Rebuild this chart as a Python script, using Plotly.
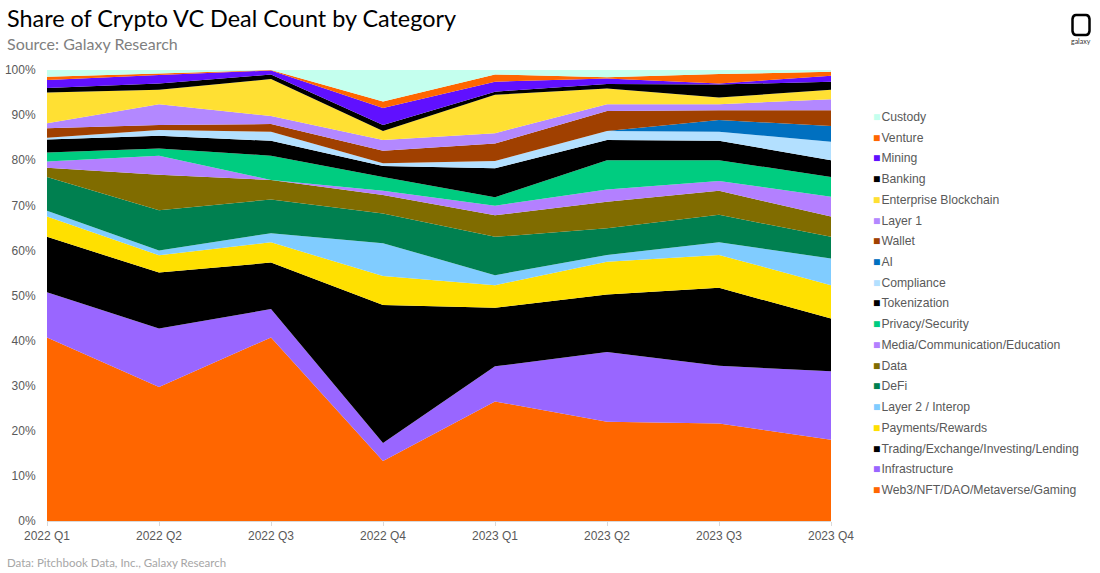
import plotly.graph_objects as go

quarters = ['2022 Q1', '2022 Q2', '2022 Q3', '2022 Q4', '2023 Q1', '2023 Q2', '2023 Q3', '2023 Q4']

# Share of deals per category, bottom of the stack first
web3 = [40.7, 29.7, 40.7, 13.3, 26.5, 22.0, 21.6, 18.0]
infrastructure = [10.0, 13.0, 6.3, 4.0, 7.8, 15.5, 12.8, 15.2]
trading = [12.3, 12.4, 10.3, 30.6, 13.0, 12.7, 17.3, 11.7]
payments = [4.5, 3.8, 4.5, 6.4, 5.0, 7.3, 7.3, 7.4]
layer2 = [1.3, 1.1, 2.0, 7.3, 2.2, 1.5, 2.8, 5.9]
defi = [7.5, 8.9, 7.5, 6.6, 8.5, 5.9, 6.1, 4.8]
data = [2.0, 7.9, 4.3, 4.1, 4.8, 5.9, 5.3, 4.5]
media = [1.4, 4.2, 0.0, 0.9, 2.1, 2.7, 2.2, 4.4]
privacy = [2.0, 1.6, 5.4, 3.1, 1.9, 6.5, 4.6, 4.4]
tokenization = [2.9, 2.8, 3.3, 2.4, 6.4, 4.5, 4.3, 3.7]
compliance = [0.4, 1.3, 2.0, 0.6, 1.6, 2.0, 2.0, 4.1]
ai = [0.0, 0.0, 0.0, 0.0, 0.0, 0.0, 2.6, 3.5]
wallet = [2.1, 1.1, 1.7, 2.8, 3.9, 4.4, 2.2, 3.5]
layer1 = [1.1, 4.6, 1.8, 2.4, 2.3, 1.5, 1.3, 2.4]
enterprise = [6.8, 3.2, 8.2, 2.0, 8.5, 3.5, 1.5, 2.1]
banking = [1.0, 1.4, 1.0, 1.3, 0.7, 1.0, 2.9, 1.8]
mining = [1.8, 1.9, 0.9, 3.8, 2.2, 1.2, 0.2, 1.3]
venture = [0.7, 0.3, 0.1, 1.4, 1.6, 0.3, 2.1, 0.9]
custody = [1.5, 0.8, 0.0, 7.0, 1.0, 1.6, 0.9, 0.4]

series = [
    ('Web3/NFT/DAO/Metaverse/Gaming', web3, '#FF6600'),
    ('Infrastructure', infrastructure, '#9966FF'),
    ('Trading/Exchange/Investing/Lending', trading, '#000000'),
    ('Payments/Rewards', payments, '#FFE000'),
    ('Layer 2 / Interop', layer2, '#80CCFF'),
    ('DeFi', defi, '#008050'),
    ('Data', data, '#806C00'),
    ('Media/Communication/Education', media, '#B380FF'),
    ('Privacy/Security', privacy, '#00CC80'),
    ('Tokenization', tokenization, '#000000'),
    ('Compliance', compliance, '#B3E0FF'),
    ('AI', ai, '#0070C0'),
    ('Wallet', wallet, '#A04000'),
    ('Layer 1', layer1, '#B388FF'),
    ('Enterprise Blockchain', enterprise, '#FFE033'),
    ('Banking', banking, '#000000'),
    ('Mining', mining, '#6010FF'),
    ('Venture', venture, '#FF6600'),
    ('Custody', custody, '#C4FFEE'),
]

WIDTH, HEIGHT = 1100, 573
LEFT, RIGHT, TOP, BOTTOM = 47, 831, 70, 521


def paper_x(px):
    return (px - LEFT) / (RIGHT - LEFT)


def paper_y(py):
    return (BOTTOM - py) / (BOTTOM - TOP)


fig = go.Figure()

for name, values, color in series:
    fig.add_trace(go.Scatter(
        x=quarters,
        y=values,
        name=name,
        mode='none',
        stackgroup='one',
        fillcolor=color,
        showlegend=False,
    ))

annotations = []

# Titles and footer
texts = [
    ('Share of Crypto VC Deal Count by Category', 5, 18, 23.4, '#000000'),
    ('Source: Galaxy Research', 5, 43, 16, '#7F7F7F'),
    ('Data: Pitchbook Data, Inc., Galaxy Research', 5, 562, 11.5, '#A6A6A6'),
]
for text, px, py, size, color in texts:
    annotations.append(dict(
        text=text, xref='paper', yref='paper', x=paper_x(px), y=paper_y(py),
        xanchor='left', yanchor='middle', showarrow=False,
        font=dict(family='Lato', size=size, color=color),
    ))

# Legend on the right, top of the stack first
for i, (name, values, color) in enumerate(reversed(series)):
    py = 117 + i * 20.72
    annotations.append(dict(
        text=f'<span style="color:{color}">■</span>\u200a{name}',
        xref='paper', yref='paper', x=paper_x(871), y=paper_y(py),
        xanchor='left', yanchor='middle', showarrow=False,
        font=dict(family='Liberation Sans', size=12.2, color='#595959'),
    ))

# Logo
annotations.append(dict(
    text='galaxy', xref='paper', yref='paper', x=paper_x(1081), y=paper_y(41),
    xanchor='center', yanchor='middle', showarrow=False,
    font=dict(family='Lato', size=7, color='#333333'),
))
logo = dict(
    type='path',
    xref='paper', yref='paper',
    path='M {} {} L {} {} Q {} {} {} {} L {} {} Q {} {} {} {} L {} {} Q {} {} {} {} L {} {} Q {} {} {} {} Z'.format(
        paper_x(1076), paper_y(15), paper_x(1086), paper_y(15),
        paper_x(1089), paper_y(15), paper_x(1089.5), paper_y(19), paper_x(1089.5), paper_y(31),
        paper_x(1089), paper_y(35), paper_x(1086), paper_y(35), paper_x(1076), paper_y(35),
        paper_x(1073), paper_y(35), paper_x(1072.5), paper_y(31), paper_x(1072.5), paper_y(19),
        paper_x(1073), paper_y(15), paper_x(1076), paper_y(15)),
    line=dict(color='#000000', width=2.5),
    fillcolor='rgba(0,0,0,0)',
)

fig.update_layout(
    width=WIDTH,
    height=HEIGHT,
    margin=dict(l=LEFT, r=WIDTH - RIGHT, t=TOP, b=HEIGHT - BOTTOM),
    paper_bgcolor='white',
    plot_bgcolor='white',
    font=dict(family='Liberation Sans', size=12, color='#595959'),
    annotations=annotations,
    shapes=[logo],
    xaxis=dict(
        type='category',
        range=[0, 7],
        automargin=False,
        showgrid=False,
        showline=True,
        linecolor='#D9D9D9',
        ticks='outside',
        ticklen=4,
        tickcolor='#D9D9D9',
    ),
    yaxis=dict(
        range=[0, 100],
        automargin=False,
        tick0=0,
        dtick=10,
        ticksuffix='%',
        ticks='outside',
        ticklen=8,
        tickcolor='rgba(0,0,0,0)',
        showgrid=False,
        showline=False,
        zeroline=False,
    ),
)

# The browser's default body margin would shift the chart by 8px
fig.write_html('out.html', post_script="document.body.style.margin='0';", config={'displayModeBar': False})
